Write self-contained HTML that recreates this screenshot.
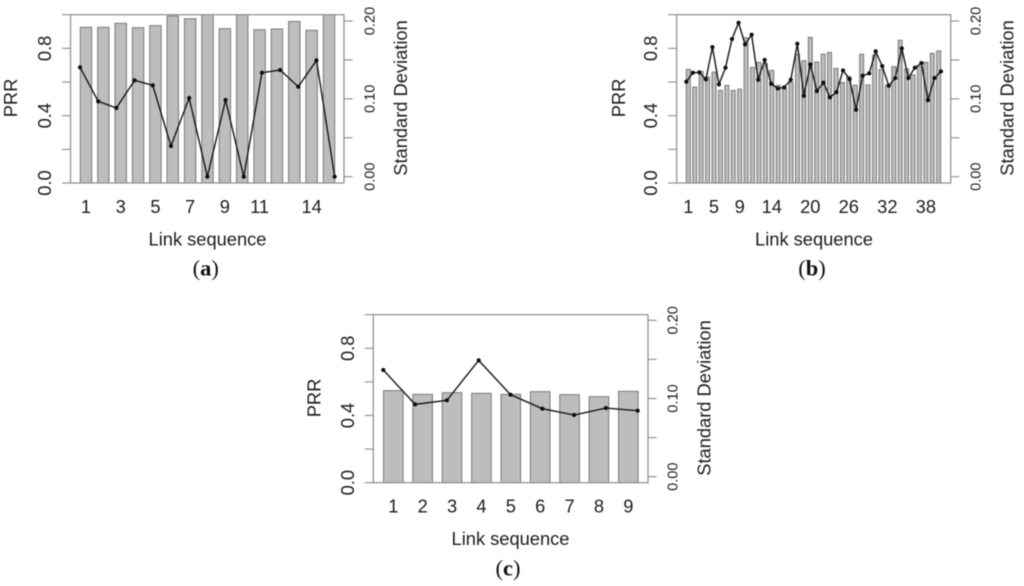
<!DOCTYPE html>
<html lang="en">
<head>
<meta charset="utf-8">
<title>PRR and standard deviation per link sequence</title>
<style>
html,body{margin:0;padding:0;background:#fff;width:1024px;height:586px;overflow:hidden}
svg{display:block;filter:blur(.4px)}
text{font-family:"Liberation Sans",sans-serif;fill:#1c1c1c}
.lab{font-size:18.3px}
.rt{font-size:14.6px}
.cap{font-family:"Liberation Serif",serif;font-size:22.5px;fill:#111}
</style>
</head>
<body>
<svg id="figure" xmlns="http://www.w3.org/2000/svg" width="1024" height="586" viewBox="0 0 1024 586"></svg>
<script>
// Panel (a)
const aCategories = ['1','2','3','4','5','6','7','8','9','10','11','12','13','14','15'];
const aPrr = [0.925,0.925,0.949,0.923,0.935,0.992,0.976,1.02,0.917,1.02,0.911,0.915,0.96,0.907,1.02];
const aSd = [0.1405,0.0968,0.0882,0.1238,0.1173,0.0394,0.1011,0,0.0985,0,0.1336,0.137,0.1156,0.1495,0];
const aTickLabels = ['1','3','5','7','9','11','14'];

// Panel (b)
const bCategories = ['1','2','3','4','5','6','7','8','9','10','11','12','13','14','15','16','17','18','19','20','21','22','23','24','25','26','27','28','29','30','31','32','33','34','35','36','37','38','39','40'];
const bPrr = [0.675,0.57,0.663,0.63,0.659,0.55,0.58,0.55,0.558,0.863,0.687,0.717,0.71,0.669,0.58,0.562,0.598,0.764,0.727,0.865,0.719,0.766,0.776,0.681,0.598,0.632,0.581,0.765,0.583,0.76,0.674,0.583,0.692,0.848,0.678,0.642,0.692,0.717,0.771,0.785];
const bSd = [0.122,0.1335,0.134,0.125,0.1665,0.1186,0.14,0.1768,0.1977,0.17,0.1823,0.1245,0.15,0.1194,0.1134,0.1147,0.1245,0.1708,0.104,0.1442,0.11,0.1207,0.1019,0.1087,0.1365,0.1254,0.086,0.1297,0.1327,0.161,0.142,0.1168,0.1267,0.1648,0.1267,0.14,0.146,0.0984,0.1267,0.1352];
const bTickLabels = ['1','5','9','14','20','26','32','38'];

// Panel (c)
const cCategories = ['1','2','3','4','5','6','7','8','9'];
const cPrr = [0.548,0.526,0.536,0.532,0.526,0.542,0.524,0.512,0.544];
const cSd = [0.1365,0.0925,0.0977,0.1488,0.1049,0.087,0.0789,0.0878,0.0844];
const cTickLabels = ['1','2','3','4','5','6','7','8','9'];

// Shared axis ticks
const prrTicks = [0,0.2,0.4,0.6,0.8,1];
const prrTickLabels = ['0.0','','0.4','','0.8',''];
const sdTicks = [0,0.05,0.1,0.15,0.2];
const sdTickLabels = ['0.00','','0.10','','0.20'];

const NS = 'http://www.w3.org/2000/svg';
const root = document.getElementById('figure');

function node(tag, attrs, parent, txt) {
  const el = document.createElementNS(NS, tag);
  for (const k in attrs) el.setAttribute(k, attrs[k]);
  if (txt !== undefined) el.textContent = txt;
  parent.appendChild(el);
  return el;
}

function drawPanel(p) {
  const g = node('g', {}, root);
  
  

  const yPrr = v => p.bottom - v * (p.bottom - p.top);
  const ySd = v => p.sd0 - (v / 0.2) * (p.sd0 - p.sd2);
  const xBar = i => p.bar0 + i * (p.barN - p.bar0) / (p.categories.length - 1);
  const xPt = i => p.pt0 + i * (p.ptN - p.pt0) / (p.categories.length - 1);

  const clip = node('clipPath', {id: 'clip-' + p.id}, g);
  node('rect', {x: p.left, y: p.top, width: p.right - p.left, height: p.bottom - p.top}, clip);

  const bars = node('g', {'clip-path': 'url(#clip-' + p.id + ')'}, g);
  
  
  p.prr.forEach((v, i) => {
    const r = node('rect', {
      x: xBar(i) - p.barW / 2, y: yPrr(v), width: p.barW, height: yPrr(0) - yPrr(v),
      fill: '#bdbdbd', stroke: p.barStroke, 'stroke-width': p.barStrokeW
    }, bars);
    
    
  });

  const box = node('rect', {
    x: p.left, y: p.top, width: p.right - p.left, height: p.bottom - p.top,
    fill: 'none', stroke: '#8c8c8c', 'stroke-width': 1.2
  }, g);
  
  

  // Left axis
  const leftAxis = node('g', {}, g);
  
  
  prrTicks.forEach((v, i) => {
    node('line', {x1: p.left - 8.5, x2: p.left, y1: yPrr(v), y2: yPrr(v), stroke: '#8c8c8c', 'stroke-width': 1.1}, leftAxis);
    if (prrTickLabels[i]) {
      const t = node('text', {
        class: 'lab', 'text-anchor': 'middle',
        transform: 'translate(' + p.leftLabelX + ',' + yPrr(v) + ') rotate(-90)'
      }, leftAxis, prrTickLabels[i]);
      
      
    }
  });

  // Right axis
  const rightAxis = node('g', {}, g);
  
  
  sdTicks.forEach((v, i) => {
    node('line', {x1: p.right, x2: p.right + 8.7, y1: ySd(v), y2: ySd(v), stroke: '#8c8c8c', 'stroke-width': 1.1}, rightAxis);
    if (sdTickLabels[i]) {
      const t = node('text', {
        class: 'rt', 'text-anchor': 'middle',
        transform: 'translate(' + p.rightLabelX + ',' + ySd(v) + ') rotate(-90)'
      }, rightAxis, sdTickLabels[i]);
      
      
    }
  });

  // Standard deviation line
  const line = node('polyline', {
    points: p.sd.map((v, i) => xPt(i) + ',' + ySd(v)).join(' '),
    fill: 'none', stroke: '#161616', 'stroke-width': 1.4
  }, g);
  
  
  p.sd.forEach((v, i) => {
    const c = node('circle', {cx: xPt(i), cy: ySd(v), r: 2.1, fill: '#0c0c0c'}, g);
    
    
  });

  // X tick labels
  p.ticks.forEach(lbl => {
    const i = p.categories.indexOf(lbl);
    const t = node('text', {class: 'lab', 'text-anchor': 'middle', x: xBar(i), y: p.tickBase}, g, lbl);
    
    
  });

  const xt = node('text', {class: 'lab', 'text-anchor': 'middle', x: p.xTitleX, y: p.xTitleY}, g, 'Link sequence');
  
  

  const yl = node('text', {
    class: 'lab', 'text-anchor': 'middle',
    transform: 'translate(' + p.prrTitleX + ',' + p.titleMid + ') rotate(-90)'
  }, g, 'PRR');
  
  

  const yr = node('text', {
    class: 'lab', 'text-anchor': 'middle',
    transform: 'translate(' + p.sdTitleX + ',' + p.titleMid + ') rotate(-90)'
  }, g, 'Standard Deviation');
  
  

  const cap = node('text', {class: 'cap', 'text-anchor': 'middle', x: p.capX, y: p.capY}, g);
  
  
  node('tspan', {}, cap, '(');
  node('tspan', {'font-weight': 'bold'}, cap, p.id);
  node('tspan', {}, cap, ')');
}

drawPanel({
  id: 'a', categories: aCategories, prr: aPrr, sd: aSd, ticks: aTickLabels,
  left: 70.5, right: 344, top: 14.7, bottom: 183, sd0: 176.7, sd2: 21,
  bar0: 86, barN: 329, barW: 11.4, barStroke: '#7a7a7a', barStrokeW: 1, pt0: 80, ptN: 334.7,
  leftLabelX: 51, rightLabelX: 374.5, tickBase: 213, xTitleX: 207.5, xTitleY: 245.5,
  prrTitleX: 17, sdTitleX: 407, titleMid: 98, capX: 205.7, capY: 275.5
});
drawPanel({
  id: 'b', categories: bCategories, prr: bPrr, sd: bSd, ticks: bTickLabels,
  left: 676.7, right: 950.7, top: 14.7, bottom: 183, sd0: 176.7, sd2: 21,
  bar0: 688.3, barN: 938.7, barW: 4, barStroke: '#707070', barStrokeW: 0.9, pt0: 686.3, ptN: 941,
  leftLabelX: 657, rightLabelX: 980.5, tickBase: 213, xTitleX: 814, xTitleY: 245.5,
  prrTitleX: 625, sdTitleX: 1013.3, titleMid: 98, capX: 812, capY: 275.5
});
drawPanel({
  id: 'c', categories: cCategories, prr: cPrr, sd: cSd, ticks: cTickLabels,
  left: 373.3, right: 648, top: 314.7, bottom: 482.7, sd0: 476.7, sd2: 320.3,
  bar0: 393.3, barN: 628.3, barW: 19.6, barStroke: '#7a7a7a', barStrokeW: 1, pt0: 383.3, ptN: 637.7,
  leftLabelX: 354, rightLabelX: 677.5, tickBase: 512.6, xTitleX: 510.5, xTitleY: 545,
  prrTitleX: 320.7, sdTitleX: 710.7, titleMid: 398, capX: 508, capY: 575.5
});
</script>
</body>
</html>
